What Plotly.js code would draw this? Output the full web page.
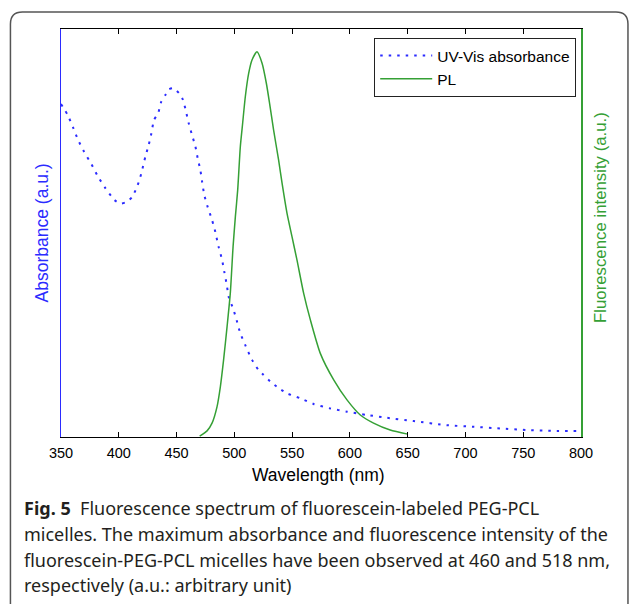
<!DOCTYPE html>
<html>
<head>
<meta charset="utf-8">
<script src="https://cdn.plot.ly/plotly-3.0.1.min.js"></script>
<style>
  html, body { margin: 0; padding: 0; background: #fff; }
  #chart { width: 629px; height: 604px; }
</style>
</head>
<body>
<div id="chart"></div>
<script>
// UV-Vis absorbance (arbitrary units)
const absWavelength = [350,355.8,360.7,364.8,370,376.3,381.7,388.4,396.2,401.6,406.6,411.5,416.3,419.5,423,425.9,428.2,430.5,434,436.8,440.3,443.2,447,452.4,455,457.6,460.5,463.4,466.3,468.3,470.6,472.1,474,476.9,480.7,483.5,486.4,489.4,491.3,493.5,495.1,499.4,502.3,505.2,509.5,515.3,521,525.3,531.1,536.9,545.6,557.1,568.6,583,597.5,614.8,632.1,655.1,684,707,730.1,753.2,776.2,796.4];
const absValue = [0.816,0.789,0.757,0.728,0.699,0.669,0.640,0.610,0.581,0.572,0.576,0.588,0.617,0.646,0.687,0.716,0.744,0.777,0.793,0.822,0.838,0.852,0.855,0.842,0.830,0.805,0.769,0.740,0.712,0.683,0.654,0.626,0.593,0.564,0.532,0.503,0.466,0.434,0.405,0.372,0.344,0.311,0.283,0.254,0.225,0.189,0.164,0.152,0.136,0.123,0.107,0.095,0.081,0.070,0.062,0.054,0.047,0.039,0.029,0.025,0.021,0.017,0.015,0.015];

// Photoluminescence (arbitrary units)
const plWavelength = [470,476.4,480.7,485,487.9,490.7,493.7,496.5,498.9,500.9,502.9,505.2,507.2,509.5,512.4,515.3,519.6,524,527.7,530.5,534,538.3,541.3,545.6,549.9,554.2,560,565.8,574.4,586,597.5,609,620.5,634.9,650];
const plValue = [0.002,0.015,0.034,0.074,0.123,0.189,0.270,0.352,0.466,0.540,0.605,0.712,0.769,0.834,0.891,0.924,0.944,0.916,0.867,0.818,0.752,0.679,0.622,0.548,0.491,0.434,0.352,0.287,0.205,0.140,0.091,0.054,0.034,0.017,0.007];

const xTicks = [350,400,450,500,550,600,650,700,750,800];
const seriesNames = ['UV-Vis absorbance', 'PL'];
const titles = {
  x: 'Wavelength (nm)',
  yLeft: 'Absorbance (a.u.)',
  yRight: 'Fluorescence intensity (a.u.)'
};
const captionLines = [
  '<b>Fig. 5</b>  Fluorescence spectrum of fluorescein-labeled PEG-PCL',
  'micelles. The maximum absorbance and fluorescence intensity of the',
  'fluorescein-PEG-PCL micelles have been observed at 460 and 518 nm,',
  'respectively (a.u.: arbitrary unit)'
];

// pixel geometry helpers
const W = 629, H = 604;
const PL_ = 60.6, PR_ = 581, PT_ = 29, PB_ = 437;
const px = v => (v - PL_) / (PR_ - PL_);
const py = v => (PB_ - v) / (PB_ - PT_);

const blue = '#2b2bff';
const green = '#35a035';
const axFont = 'Liberation Sans, Arial, sans-serif';

const traces = [
  {
    x: absWavelength, y: absValue, name: seriesNames[0], type: 'scatter', mode: 'lines',
    line: {color: blue, width: 2, dash: '2.5px,6px', shape: 'spline', smoothing: 0.6},
    yaxis: 'y'
  },
  {
    x: plWavelength, y: plValue, name: seriesNames[1], type: 'scatter', mode: 'lines',
    line: {color: green, width: 1.5, shape: 'spline', smoothing: 0.6},
    yaxis: 'y2'
  }
];

// rounded frame path (open at bottom)
const r = 12;
const fx0 = px(10), fx1 = px(628), fy0 = py(12), fyb = py(620);
const rx = r / (PR_ - PL_), ry = r / (PB_ - PT_);
const framePath = `M ${fx0} ${fyb} L ${fx0} ${fy0 - ry} Q ${fx0} ${fy0} ${fx0 + rx} ${fy0} L ${fx1 - rx} ${fy0} Q ${fx1} ${fy0} ${fx1} ${fy0 - ry} L ${fx1} ${fyb}`;

const captionY = [508, 534, 560, 585];
const annotations = [
  {text: titles.yLeft, xref: 'paper', yref: 'paper', x: px(42), y: py(233), textangle: -90,
   showarrow: false, font: {family: axFont, size: 17.5, color: blue}, xanchor: 'center', yanchor: 'middle'},
  {text: titles.yRight, xref: 'paper', yref: 'paper', x: px(600), y: py(217), textangle: -90,
   showarrow: false, font: {family: axFont, size: 16.8, color: green}, xanchor: 'center', yanchor: 'middle'},
  {text: titles.x, xref: 'paper', yref: 'paper', x: px(318.5), y: py(475),
   showarrow: false, font: {family: axFont, size: 17.5, color: '#000'}, xanchor: 'center', yanchor: 'middle'}
];
captionLines.forEach((t, i) => {
  annotations.push({text: t, xref: 'paper', yref: 'paper', x: px(22), y: py(captionY[i]),
    showarrow: false, xanchor: 'left', yanchor: 'middle', align: 'left',
    font: {family: 'Noto Sans, Open Sans, sans-serif', size: 18, color: '#231f20'}});
});

const layout = {
  width: W, height: H,
  margin: {l: PL_, r: W - PR_, t: PT_, b: H - PB_, pad: 0},
  paper_bgcolor: '#fff', plot_bgcolor: '#fff',
  showlegend: true,
  legend: {
    x: px(576), y: py(37.7), xanchor: 'right', yanchor: 'top',
    bordercolor: '#222', borderwidth: 1.2, bgcolor: '#fff',
    font: {family: axFont, size: 15.5, color: '#000'},
    itemwidth: 52, tracegroupgap: 0
  },
  xaxis: {
    range: [350, 800], tickvals: xTicks, ticktext: xTicks.map(String),
    ticks: 'inside', ticklen: 5, tickcolor: '#000', tickwidth: 1,
    showline: true, linecolor: '#000', linewidth: 1, mirror: 'ticks',
    showgrid: false, zeroline: false, ticklabelstandoff: 3,
    tickfont: {family: axFont, size: 14.5, color: '#000'}
  },
  yaxis: {
    range: [0, 1], showticklabels: false, ticks: '', showgrid: false, zeroline: false,
    showline: true, linecolor: blue, linewidth: 1.5
  },
  yaxis2: {
    range: [0, 1], overlaying: 'y', side: 'right', showticklabels: false, ticks: '',
    showgrid: false, zeroline: false, showline: true, linecolor: green, linewidth: 1.5
  },
  shapes: [
    {type: 'path', xref: 'paper', yref: 'paper', path: framePath,
     line: {color: '#555', width: 1.5}, layer: 'below'}
  ],
  annotations: annotations
};

Plotly.newPlot('chart', traces, layout, {displayModeBar: false, staticPlot: true});
</script>
</body>
</html>
